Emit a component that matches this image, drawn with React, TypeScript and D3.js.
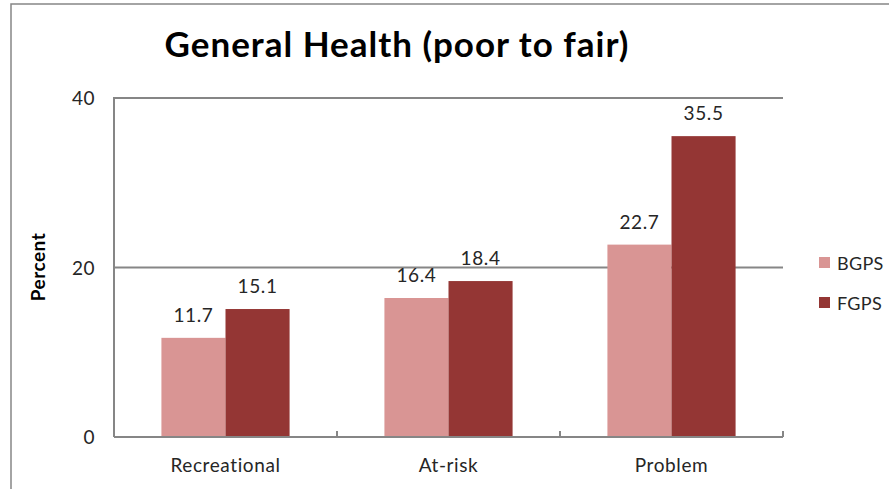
import * as d3 from 'd3'

const categories = ['Recreational', 'At-risk', 'Problem']
const seriesNames = ['BGPS', 'FGPS']
const bgpsValues = [11.7, 16.4, 22.7]
const fgpsValues = [15.1, 18.4, 35.5]
const yTicks = [0, 20, 40]

const colors = ['#d99594', '#943634']
const font = 'Lato, Carlito, Calibri, sans-serif'

export default function App() {
  const width = 889
  const height = 489
  const plot = { left: 114, right: 783, top: 98, bottom: 437 }

  const x = d3.scaleBand<string>()
    .domain(categories)
    .range([plot.left, plot.right])
    .paddingInner(0)
    .paddingOuter(0)

  const inner = d3.scaleBand<string>()
    .domain(seriesNames)
    .range([0, x.bandwidth()])
    .paddingOuter(0.74)
    .paddingInner(0)

  const y = d3.scaleLinear().domain([0, 40]).range([plot.bottom, plot.top])

  const series = [bgpsValues, fgpsValues]
  const axisColor = '#868686'
  const textColor = '#262626'

  return (
    <svg
      width={width}
      height={height}
      style={{ position: 'absolute', left: 0, top: 0, background: '#fff' }}
      fontFamily={font}
    >
      {/* outer chart border */}
      <rect x={11} y={4} width={width + 20} height={height + 20} fill="none" stroke={axisColor} strokeWidth={1.5} />

      <text x={397} y={57} textAnchor="middle" fontSize={35} fontWeight="bold" letterSpacing={1} fill="#000">
        General Health (poor to fair)
      </text>

      {/* gridlines */}
      {yTicks.filter(t => t > 0).map(t => (
        <line key={t} x1={plot.left} x2={plot.right} y1={y(t)} y2={y(t)} stroke={axisColor} strokeWidth={2} />
      ))}

      {/* bars */}
      {categories.map((c, i) => (
        <g key={c}>
          {seriesNames.map((s, j) => {
            const bx = (x(c) ?? 0) + (inner(s) ?? 0)
            const v = series[j][i]
            return (
              <g key={s}>
                <rect x={bx} y={y(v)} width={inner.bandwidth()} height={y(0) - y(v)} fill={colors[j]} />
                <text
                  x={bx + inner.bandwidth() / 2}
                  y={y(v) - 16}
                  textAnchor="middle"
                  fontSize={19}
                  letterSpacing={0.6}
                  fill={textColor}
                >
                  {v.toFixed(1)}
                </text>
              </g>
            )
          })}
        </g>
      ))}

      {/* y axis */}
      <line x1={plot.left} x2={plot.left} y1={plot.top - 1} y2={plot.bottom} stroke={axisColor} strokeWidth={2} />
      {yTicks.map(t => (
        <text key={t} x={95} y={y(t) + 7} textAnchor="end" fontSize={19} letterSpacing={0.5} fill={textColor}>
          {t}
        </text>
      ))}

      {/* x axis */}
      <line x1={plot.left} x2={plot.right} y1={plot.bottom} y2={plot.bottom} stroke={axisColor} strokeWidth={2} />
      {categories.map(c => (
        <line
          key={c}
          x1={(x(c) ?? 0) + x.bandwidth()}
          x2={(x(c) ?? 0) + x.bandwidth()}
          y1={plot.bottom}
          y2={plot.bottom - 6}
          stroke={axisColor}
          strokeWidth={2}
        />
      ))}
      {categories.map(c => (
        <text
          key={c}
          x={(x(c) ?? 0) + x.bandwidth() / 2}
          y={472}
          textAnchor="middle"
          fontSize={19}
          letterSpacing={0.6}
          fill={textColor}
        >
          {c}
        </text>
      ))}

      <text
        transform={`translate(45, 267) rotate(-90)`}
        textAnchor="middle"
        fontSize={19}
        fontWeight="bold"
        letterSpacing={0.5}
        fill="#000"
      >
        Percent
      </text>

      {/* legend */}
      {seriesNames.map((s, j) => (
        <g key={s} transform={`translate(819, ${263 + j * 40})`}>
          <rect x={0} y={-6} width={11} height={11} fill={colors[j]} />
          <text x={18} y={7} fontSize={18} letterSpacing={0.3} fill={textColor}>
            {s}
          </text>
        </g>
      ))}
    </svg>
  )
}
